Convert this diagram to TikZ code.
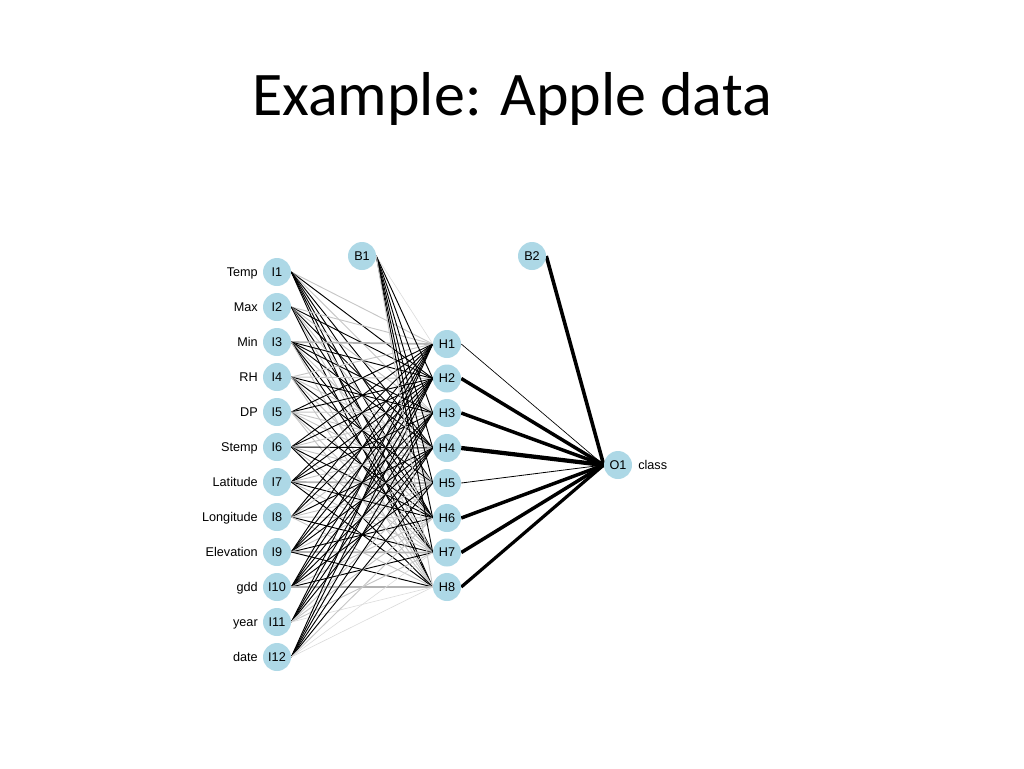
\documentclass[tikz,border=0pt]{standalone}
\usepackage{fontspec}
\setmainfont{Liberation Sans}
\newfontfamily\titlefont{Carlito}
\usetikzlibrary{backgrounds}
\definecolor{nodeblue}{RGB}{173,216,230}
\begin{document}
\begin{tikzpicture}[x=0.75pt,y=-0.75pt,
  neuron/.style={circle,fill=nodeblue,minimum size=21pt,inner sep=0pt,font=\fontsize{9.5}{10}\selectfont},
  lab/.style={anchor=east,font=\fontsize{9.5}{10}\selectfont,inner sep=0pt,text height=1.6ex,text depth=0.3ex},
  ek/.style={draw=black,line width=0.7pt},
  eg/.style={draw=gray!45,line width=0.7pt},
  eG/.style={draw=gray!60,line width=1.3pt},
  el/.style={draw=gray!28,line width=0.45pt},
  outedge/.style={draw=black}]
\useasboundingbox (0,0) rectangle (1024,768);
\node[font=\titlefont\fontsize{46.5}{50}\selectfont] (title) at (512,99) {Example: Apple data};
% input nodes
\foreach \i/\name in {1/Temp,2/Max,3/Min,4/RH,5/DP,6/Stemp,7/Latitude,8/Longitude,9/Elevation,10/gdd,11/year,12/date}{
  \node[neuron] (I\i) at (277,{272+35*(\i-1)}) {I\i};
  \node[lab] (L\i) at (258,{272+35*(\i-1)}) {\name};
}
\foreach \h/\y in {1/344,2/378.5,3/413,4/448,5/483,6/518,7/552.5,8/587}{
  \node[neuron] (H\h) at (447,\y) {H\h};
}
\node[neuron] (B1) at (362,256) {B1};
\node[neuron] (B2) at (532,256) {B2};
\node[neuron] (O1) at (618,465) {O1};
\node[anchor=west,font=\fontsize{9.5}{10}\selectfont,inner sep=0pt,text height=1.6ex,text depth=0.3ex] (cls) at (638,465) {class};
\begin{scope}[on background layer]
\foreach \i/\codes in {
  1/{eg,ek,eg,ek,ek,ek,ek,ek},
  2/{eg,ek,eg,ek,eg,ek,eg,ek},
  3/{eG,ek,ek,ek,eg,ek,ek,eg},
  4/{eg,eg,ek,eg,ek,eg,ek,eg},
  5/{ek,ek,eg,eg,eg,ek,eg,eg},
  6/{ek,ek,eg,ek,eg,ek,eg,ek},
  7/{ek,ek,ek,eg,eG,ek,eg,ek},
  8/{ek,ek,eg,ek,eg,eg,ek,eg},
  9/{ek,ek,ek,ek,eg,ek,eG,ek},
  10/{ek,ek,ek,ek,ek,eg,ek,eG},
  11/{ek,ek,ek,ek,eg,eg,eg,el},
  12/{ek,ek,ek,ek,ek,eg,el,el}}{
  \foreach \c [count=\h] in \codes {
    \draw[\c] (I\i.east) -- (H\h.west);
  }
}
\foreach \c [count=\h] in {el,ek,ek,ek,ek,ek,ek,eg}{
  \draw[\c] (B1.east) -- (H\h.west);
}
\foreach \h/\w in {1/0.5,2/2.6,3/2.6,4/3.2,5/0.6,6/2.6,7/2.6,8/2.4}{
  \draw[outedge,line width=\w pt] (H\h.east) -- (O1.west);
}
\draw[outedge,line width=2.7pt] (B2.east) -- (O1.west);
\end{scope}
\end{tikzpicture}
\end{document}
